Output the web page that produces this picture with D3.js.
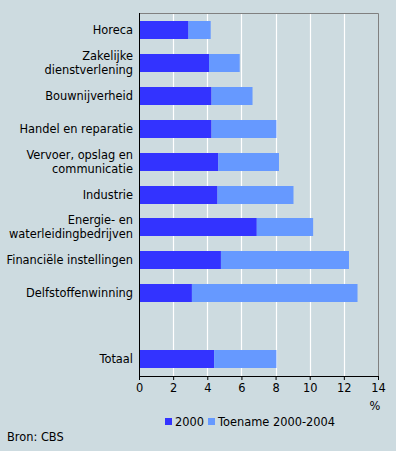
<!DOCTYPE html>
<head>
  <meta charset="utf-8">
  <title>Toename 2000-2004</title>
  <script src="https://d3js.org/d3.v7.min.js"></script>
  <style>
    body { margin: 0; background: #cddbe0; }
    svg { display: block; font-family: "DejaVu Sans", Verdana, sans-serif; font-size: 11.4px; }
  </style>
</head>
<body>
  <svg id="chart" width="396" height="451"></svg>
  <script>
    var categories = [
      ["Horeca"],
      ["Zakelijke", "dienstverlening"],
      ["Bouwnijverheid"],
      ["Handel en reparatie"],
      ["Vervoer, opslag en", "communicatie"],
      ["Industrie"],
      ["Energie- en", "waterleidingbedrijven"],
      ["Financiële instellingen"],
      ["Delfstoffenwinning"],
      [""],
      ["Totaal"]
    ];
    var values2000 = [2.9, 4.1, 4.25, 4.25, 4.65, 4.6, 6.9, 4.8, 3.1, null, 4.4];
    var toename = [1.3, 1.8, 2.4, 3.8, 3.55, 4.45, 3.3, 7.5, 9.7, null, 3.65];
    var xTicks = [0, 2, 4, 6, 8, 10, 12, 14];
    var seriesNames = ["2000", "Toename 2000-2004"];
    var colors = ["#3333ff", "#6699ff"];

    var svg = d3.select("#chart");
    var plotLeft = 139, plotRight = 378, plotTop = 13, plotBottom = 376;

    var x = d3.scaleLinear().domain([0, 14]).range([plotLeft, plotRight]);
    var y = d3.scaleBand()
      .domain(d3.range(categories.length))
      .range([plotTop, plotBottom])
      .paddingInner(15 / 33)
      .paddingOuter(0.25);

    // gridlines
    svg.append("g").selectAll("line")
      .data(xTicks.slice(1, -1))
      .enter().append("line")
      .attr("x1", function(d) { return Math.round(x(d)) + 0.5; })
      .attr("x2", function(d) { return Math.round(x(d)) + 0.5; })
      .attr("y1", plotTop).attr("y2", plotBottom)
      .attr("stroke", "#ffffff").attr("stroke-width", 1.2);

    // frame top / right
    svg.append("path")
      .attr("d", "M" + plotLeft + "," + (plotTop + 0.5) + "H" + (plotRight + 0.5) + "V" + plotBottom)
      .attr("fill", "none").attr("stroke", "#808080");

    // bars
    var rows = categories.map(function(c, i) {
      return { i: i, a: values2000[i], b: toename[i] };
    }).filter(function(d) { return d.a != null; });

    svg.append("g").selectAll("rect")
      .data(rows).enter().append("rect")
      .attr("x", x(0))
      .attr("y", function(d) { return Math.round(y(d.i)); })
      .attr("width", function(d) { return x(d.a) - x(0); })
      .attr("height", 18)
      .attr("fill", colors[0]);

    svg.append("g").selectAll("rect")
      .data(rows).enter().append("rect")
      .attr("x", function(d) { return x(d.a); })
      .attr("y", function(d) { return Math.round(y(d.i)); })
      .attr("width", function(d) { return x(d.a + d.b) - x(d.a); })
      .attr("height", 18)
      .attr("fill", colors[1]);

    // x axis
    var xAxis = svg.append("g")
      .attr("transform", "translate(0," + plotBottom + ")")
      .call(d3.axisBottom(x).tickValues(xTicks).tickSize(4).tickPadding(4));
    xAxis.select(".domain").attr("stroke", "#000").attr("d", "M" + plotLeft + ",0.5H" + (plotRight + 0.5));
    xAxis.selectAll("text").attr("font-family", "DejaVu Sans, Verdana, sans-serif")
      .attr("font-size", "11.4px").attr("fill", "#000");

    // left axis line
    svg.append("line")
      .attr("x1", plotLeft + 0.5).attr("x2", plotLeft + 0.5)
      .attr("y1", plotTop).attr("y2", plotBottom + 4)
      .attr("stroke", "#000");

    // category labels
    var labels = svg.append("g").selectAll("text")
      .data(categories).enter().append("text")
      .attr("text-anchor", "end")
      .attr("x", 133)
      .attr("y", function(d, i) { return Math.round(y(i)) + 9 + 4 - (d.length - 1) * 7; });
    labels.selectAll("tspan")
      .data(function(d) { return d; }).enter().append("tspan")
      .attr("x", 133)
      .attr("dy", function(d, j) { return j === 0 ? 0 : 14; })
      .text(function(d) { return d; });

    svg.append("text").attr("x", 375).attr("y", 410).attr("text-anchor", "middle").text("%");

    // legend
    var legend = svg.append("g").attr("transform", "translate(165,418)");
    var lx = [0, 43];
    seriesNames.forEach(function(name, i) {
      legend.append("rect").attr("x", lx[i]).attr("y", 0).attr("width", 7).attr("height", 7).attr("fill", colors[i]);
      legend.append("text").attr("x", lx[i] + 10).attr("y", 8).text(name);
    });

    svg.append("text").attr("x", 7).attr("y", 441).text("Bron: CBS");
  </script>
</body>
</html>
